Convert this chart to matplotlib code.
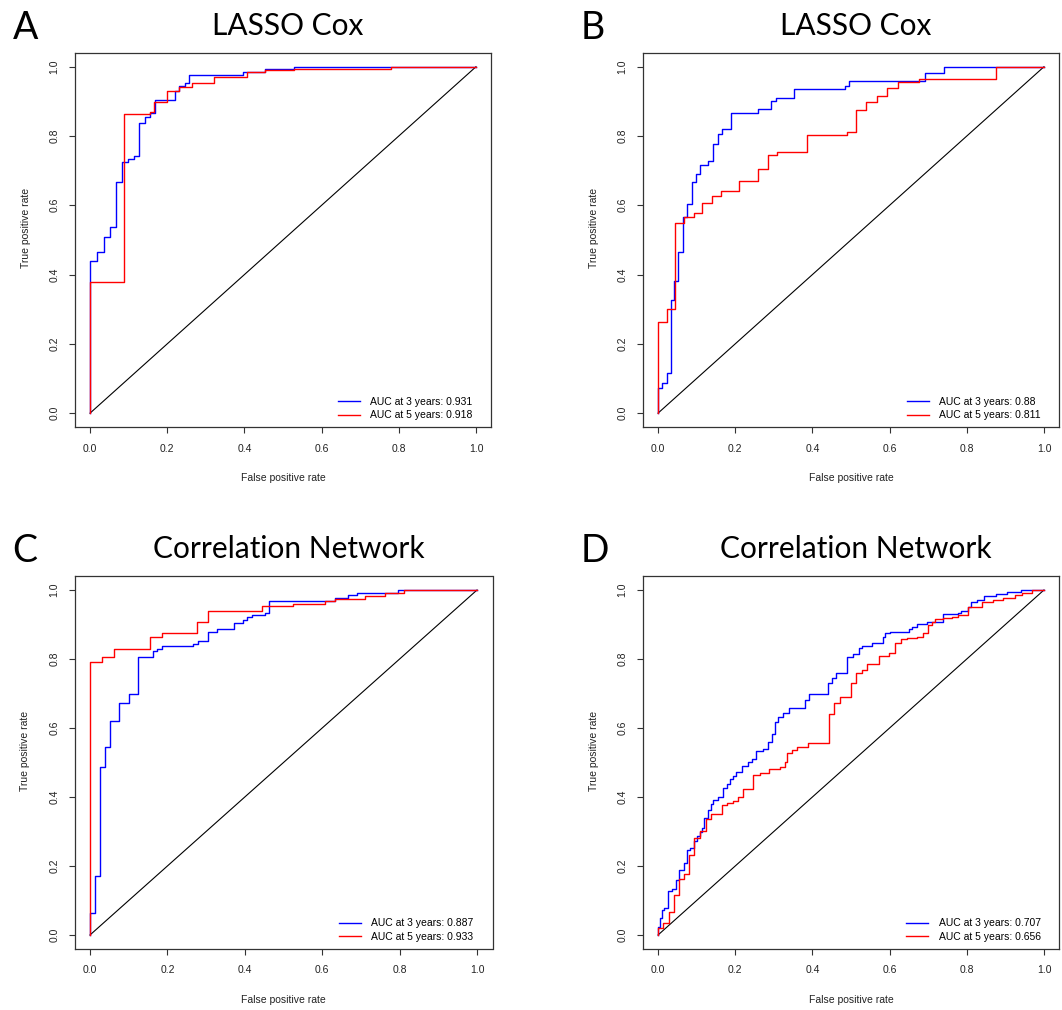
import matplotlib
matplotlib.use("Agg")
import matplotlib.pyplot as plt

plt.rcParams['font.family'] = ['Liberation Sans', 'DejaVu Sans']

# ROC staircase corners (fpr, tpr)
a3_fpr = [0, 0, 0.017, 0.035, 0.052, 0.067, 0.084, 0.099, 0.114, 0.128, 0.142, 0.155, 0.168,
          0.220, 0.231, 0.246, 0.256, 0.397, 0.453, 0.529, 1.0]
a3_tpr = [0, 0.440, 0.466, 0.508, 0.538, 0.668, 0.726, 0.733, 0.743, 0.837, 0.856, 0.866, 0.903,
          0.931, 0.945, 0.953, 0.977, 0.986, 0.994, 1.0, 1.0]
a5_fpr = [0, 0, 0.089, 0.155, 0.166, 0.199, 0.230, 0.263, 0.322, 0.406, 0.453, 0.529, 0.781, 1.0]
a5_tpr = [0, 0.378, 0.863, 0.870, 0.897, 0.929, 0.941, 0.953, 0.971, 0.986, 0.990, 0.994, 1.0, 1.0]

b3_fpr = [0, 0, 0.011, 0.022, 0.033, 0.042, 0.053, 0.064, 0.076, 0.087, 0.098, 0.109, 0.130,
          0.143, 0.155, 0.167, 0.189, 0.258, 0.293, 0.306, 0.353, 0.484, 0.496, 0.692, 0.742, 1.0]
b3_tpr = [0, 0.073, 0.086, 0.115, 0.327, 0.382, 0.464, 0.566, 0.603, 0.666, 0.690, 0.715, 0.729,
          0.777, 0.805, 0.821, 0.866, 0.878, 0.900, 0.911, 0.935, 0.944, 0.959, 0.983, 1.0, 1.0]
b5_fpr = [0, 0, 0.022, 0.044, 0.067, 0.092, 0.115, 0.139, 0.163, 0.211, 0.260, 0.284, 0.309,
          0.385, 0.489, 0.513, 0.539, 0.567, 0.594, 0.621, 0.676, 0.877, 1.0]
b5_tpr = [0, 0.262, 0.301, 0.548, 0.566, 0.577, 0.608, 0.628, 0.640, 0.671, 0.704, 0.746, 0.753,
          0.803, 0.811, 0.874, 0.899, 0.917, 0.939, 0.956, 0.966, 1.0, 1.0]

c3_fpr = [0, 0, 0.013, 0.026, 0.039, 0.052, 0.076, 0.101, 0.125, 0.162, 0.174, 0.185, 0.267,
          0.280, 0.304, 0.327, 0.372, 0.396, 0.406, 0.419, 0.452, 0.463, 0.633, 0.667, 0.689,
          0.797, 1.0]
c3_tpr = [0, 0.065, 0.172, 0.488, 0.544, 0.621, 0.672, 0.699, 0.806, 0.823, 0.830, 0.837, 0.843,
          0.851, 0.879, 0.888, 0.903, 0.912, 0.922, 0.928, 0.934, 0.967, 0.977, 0.985, 0.991,
          1.0, 1.0]
c5_fpr = [0, 0, 0.032, 0.063, 0.155, 0.185, 0.276, 0.304, 0.444, 0.525, 0.607, 0.633, 0.711,
          0.761, 0.812, 1.0]
c5_tpr = [0, 0.790, 0.805, 0.828, 0.865, 0.874, 0.906, 0.940, 0.954, 0.959, 0.968, 0.975, 0.983,
          0.991, 1.0, 1.0]

d3_fpr = [0, 0.001, 0.005, 0.011, 0.016, 0.027, 0.035, 0.046, 0.055, 0.068, 0.074, 0.083, 0.094,
          0.100, 0.109, 0.113, 0.120, 0.130, 0.137, 0.143, 0.155, 0.169, 0.178, 0.187, 0.195,
          0.201, 0.217, 0.232, 0.243, 0.254, 0.273, 0.284, 0.295, 0.303, 0.312, 0.325, 0.339,
          0.381, 0.392, 0.441, 0.450, 0.461, 0.489, 0.506, 0.521, 0.528, 0.554, 0.582, 0.588,
          0.601, 0.651, 0.657, 0.670, 0.696, 0.739, 0.778, 0.786, 0.804, 0.811, 0.827, 0.845,
          0.877, 0.903, 0.940, 1.0]
d3_tpr = [0, 0.024, 0.048, 0.072, 0.077, 0.128, 0.132, 0.159, 0.188, 0.208, 0.246, 0.251, 0.272,
          0.287, 0.300, 0.309, 0.338, 0.362, 0.380, 0.391, 0.399, 0.425, 0.438, 0.451, 0.462,
          0.472, 0.491, 0.502, 0.509, 0.534, 0.538, 0.560, 0.583, 0.618, 0.633, 0.644, 0.657,
          0.681, 0.700, 0.730, 0.744, 0.760, 0.807, 0.814, 0.831, 0.838, 0.846, 0.863, 0.874,
          0.879, 0.886, 0.894, 0.901, 0.906, 0.930, 0.934, 0.939, 0.952, 0.966, 0.971, 0.983,
          0.988, 0.995, 1.0, 1.0]
d5_fpr = [0, 0, 0.014, 0.028, 0.041, 0.055, 0.068, 0.081, 0.094, 0.109, 0.124, 0.137, 0.165,
          0.178, 0.193, 0.206, 0.219, 0.247, 0.264, 0.288, 0.316, 0.329, 0.333, 0.346, 0.359,
          0.388, 0.443, 0.457, 0.472, 0.500, 0.512, 0.528, 0.542, 0.573, 0.599, 0.614, 0.629,
          0.644, 0.672, 0.686, 0.700, 0.709, 0.718, 0.739, 0.761, 0.778, 0.804, 0.839, 0.869,
          0.895, 0.925, 0.942, 0.968, 1.0]
d5_tpr = [0, 0.019, 0.036, 0.068, 0.116, 0.162, 0.176, 0.232, 0.282, 0.302, 0.335, 0.351, 0.377,
          0.384, 0.389, 0.399, 0.422, 0.464, 0.469, 0.480, 0.488, 0.502, 0.528, 0.536, 0.546,
          0.556, 0.641, 0.673, 0.691, 0.730, 0.760, 0.768, 0.785, 0.809, 0.817, 0.847, 0.857,
          0.860, 0.865, 0.874, 0.900, 0.908, 0.915, 0.918, 0.923, 0.928, 0.952, 0.964, 0.971,
          0.976, 0.986, 0.990, 1.0, 1.0]

panel_letters = ['A', 'B', 'C', 'D']
panel_titles = ['LASSO Cox', 'LASSO Cox', 'Correlation Network', 'Correlation Network']
auc3 = ['0.931', '0.88', '0.887', '0.707']
auc5 = ['0.918', '0.811', '0.933', '0.656']
curves3 = [(a3_fpr, a3_tpr), (b3_fpr, b3_tpr), (c3_fpr, c3_tpr), (d3_fpr, d3_tpr)]
curves5 = [(a5_fpr, a5_tpr), (b5_fpr, b5_tpr), (c5_fpr, c5_tpr), (d5_fpr, d5_tpr)]

W, H = 1062, 1010
fig = plt.figure(figsize=(W / 100, H / 100), dpi=100)

# axes boxes in pixels: left, right, top, bottom
boxes = [(74.6, 491.4, 52.9, 427.0), (642.6, 1059.4, 52.9, 427.0),
         (74.5, 492.5, 576.2, 948.8), (642.6, 1059.4, 576.2, 948.8)]

def fx(px):
    return px / W

def fy(py):
    return 1 - py / H

for i in range(4):
    l, r, t, b = boxes[i]
    ax = fig.add_axes([fx(l), fy(b), (r - l) / W, (b - t) / H])
    ax.plot([0, 1], [0, 1], color='black', lw=0.8)
    f3, t3 = curves3[i]
    f5, t5 = curves5[i]
    ax.plot(f3, t3, color='#0000ff', lw=1.0, drawstyle='steps-post',
            label='AUC at 3 years: ' + auc3[i])
    ax.plot(f5, t5, color='#ff0000', lw=1.0, drawstyle='steps-post',
            label='AUC at 5 years: ' + auc5[i])
    ax.set_xlim(-0.04, 1.04)
    ax.set_ylim(-0.04, 1.04)
    ticks = [0, 0.2, 0.4, 0.6, 0.8, 1.0]
    ax.set_xticks(ticks)
    ax.set_yticks(ticks)
    ax.set_xticklabels(['0.0', '0.2', '0.4', '0.6', '0.8', '1.0'])
    ax.set_yticklabels(['0.0', '0.2', '0.4', '0.6', '0.8', '1.0'], rotation=90, va='center')
    ax.tick_params(labelsize=7.5, length=4, width=0.8, color='#333333', labelcolor='#222222')
    ax.tick_params(axis='x', pad=8)
    ax.tick_params(axis='y', pad=7)
    for s in ax.spines.values():
        s.set_color('#333333')
        s.set_linewidth(0.9)
    ax.legend(loc='lower right', bbox_to_anchor=(0.955, 0.018), frameon=False,
              fontsize=7.5, handlelength=2.1, handletextpad=1.0, labelspacing=0.35,
              borderpad=0, borderaxespad=0)

    cx = (l + r) / 2
    fig.text(fx(l - 49), fy((t + b) / 2 - 12), 'True positive rate', rotation=90,
             ha='center', va='center', fontsize=7.5, color='#222222')
    fig.text(fx(cx), fy(b + 51), 'False positive rate', ha='center', va='center',
             fontsize=7.5, color='#222222')
    fig.text(fx(cx + 5), fy(t - 27), panel_titles[i], ha='center', va='center',
             fontsize=21.5, family=['Lato', 'DejaVu Sans'])
    fig.text(fx(l - 62), fy(t - 25), panel_letters[i], ha='left', va='center',
             fontsize=27, family=['Lato', 'DejaVu Sans'])

fig.savefig('out.png', dpi=100)
